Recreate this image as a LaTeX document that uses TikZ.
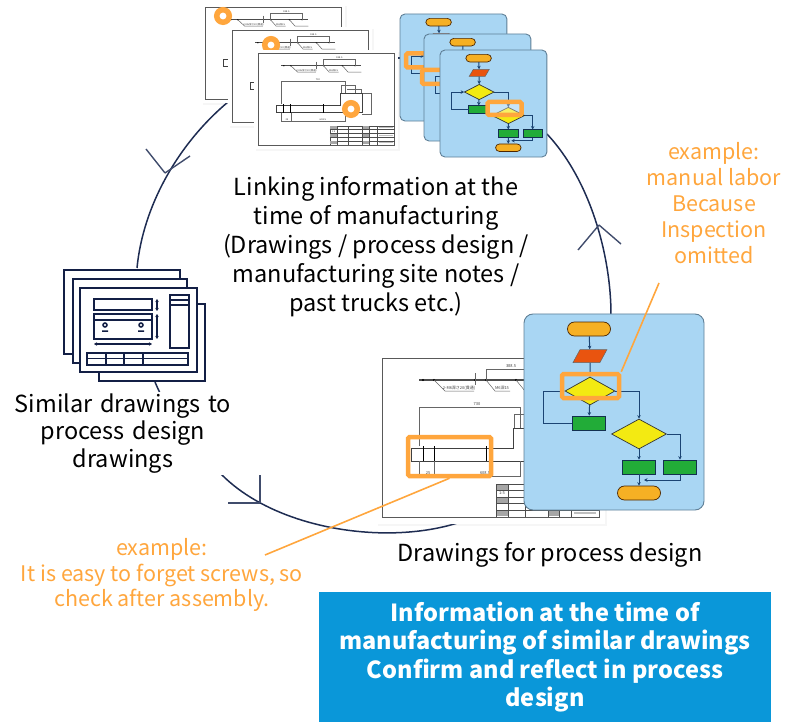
\documentclass[tikz,border=0pt]{standalone}
\usepackage{fontspec}
\setmainfont{Noto Sans CJK JP}
\usepackage{tikz}
\usetikzlibrary{shapes,shapes.geometric,arrows.meta,positioning,shadows}

\definecolor{navyline}{HTML}{1E2C52}
\definecolor{iconnavy}{HTML}{131F45}
\definecolor{markorange}{HTML}{FFA63D}
\definecolor{panelblue}{HTML}{A9D6F3}
\definecolor{paneledge}{HTML}{5F7F96}
\definecolor{flowblue}{HTML}{1B4473}
\definecolor{pillorange}{HTML}{F6B024}
\definecolor{inputred}{HTML}{E9540F}
\definecolor{decyellow}{HTML}{F3EA12}
\definecolor{taskgreen}{HTML}{22AC38}
\definecolor{bannerblue}{HTML}{0A97D9}

\tikzset{
    arcline/.style={navyline, line width=1.5pt},
    barbline/.style={navyline!85!white, line width=1.4pt},
    iconline/.style={iconnavy, line width=2.6pt},
    iconthin/.style={iconnavy, line width=1.5pt},
    markbox/.style={draw=markorange, line width=4.5pt, rounded corners=1.5pt, inner sep=0pt},
    markring/.style={draw=markorange, line width=5.5pt, circle, minimum size=12.5pt, inner sep=0pt, fill=white},
    leaderline/.style={markorange, line width=1.6pt},
    blacktext/.style={align=center, text=black, font=\fontsize{23.5}{29}\selectfont},
    orangetext/.style={align=center, text=markorange, font=\fontsize{21.5}{25.8}\selectfont},
    sheetframe/.style={draw=black!65, line width=0.9pt},
    partline/.style={black!60, line width=0.5pt},
    sheettext/.style={transform shape, inner sep=0pt, black!75, font=\fontsize{4}{4.5}\selectfont},
    pill/.style={transform shape, rounded rectangle, draw=black!70!orange, line width=0.7pt, fill=pillorange, minimum width=43pt, minimum height=14pt, inner sep=0pt},
    inputbox/.style={transform shape, trapezium, trapezium left angle=72, trapezium right angle=108, trapezium stretches=true, draw=black!60, line width=0.5pt, fill=inputred, minimum width=34pt, minimum height=13pt, inner sep=0pt},
    decbox/.style={transform shape, diamond, draw=black!80, line width=0.7pt, fill=decyellow, inner sep=0pt},
    taskbox/.style={transform shape, rectangle, draw=flowblue!70!black, line width=0.7pt, fill=taskgreen, minimum width=33pt, minimum height=14pt, inner sep=0pt},
    flowarrow/.style={flowblue, line width=1pt, -{Stealth[length=3.5pt,width=3.5pt]}},
    % Drawing sheet, in the units of the large sheet
    pics/partsheet/.style={code={
        \fill[white, drop shadow={shadow xshift=2pt, shadow yshift=-2pt, opacity=0.07}] (-6,-6) rectangle (223,166);
        \draw[sheetframe] (0,0) rectangle (217,159);
        % Upper shaft
        \draw[black!70, line width=1.2pt] (37,22) -- (164,22);
        \foreach \px in {41,52,93,104,134,154} {
            \fill[black] (\px,22) circle (1.2);
        }
        \draw[partline] (52,22) -- (63,33) -- (92,33) (104,22) -- (113,33) -- (128,33) (134,22) -- (143,33) -- (164,33);
        \draw[partline] (104,22) -- (104,11) -- (154,11) -- (154,22) (93,15) -- (93,27);
        \node[sheettext] (-lblA) at (129,8.5) {388.5};
        \node[sheettext] (-lblB) at (77,30.5) {2-M6深さ20(貫通)};
        \node[sheettext] (-lblC) at (120,30.5) {M6深15};
        % Part outline
        \draw[partline] (37,88) -- (37,49) -- (138,49) -- (138,70);
        \node[sheettext] (-lblD) at (95,46.5) {730};
        \draw[partline] (132,70) -- (132,56) -- (154,56) -- (154,70) (142,62) -- (164,62) -- (164,70) (154,69) -- (180,69) -- (180,105) -- (165,105);
        \draw[black!75, line width=0.7pt] (29,90) -- (131,90) -- (131,70) -- (165,70) -- (165,103) -- (29,103) -- cycle;
        \draw[partline] (37,103) -- (37,118) -- (138,118) -- (138,103) (52,103) -- (52,118);
        \foreach \px in {41,52,104} {
            \draw[black, line width=0.8pt] (\px,88) -- (\px,103);
        }
        \node[sheettext] (-lblE) at (46,115) {25};
        \node[sheettext] (-lblF) at (103,115) {608.5};
        % Title block
        \draw[black!70, line width=0.6pt] (114,159) -- (114,126) -- (217,126) (114,132) -- (217,132) (114,139) -- (217,139) (114,145) -- (217,145) (114,152) -- (217,152);
        \foreach \px in {126,143,166,177,189} {
            \draw[black!70, line width=0.6pt] (\px,126) -- (\px,159);
        }
        \foreach \py in {126,139,152} {
            \fill[black!35] (114.5,\py+0.5) rectangle (125.5,\py+5.5);
            \fill[black!35] (166.5,\py+0.5) rectangle (176.5,\py+5.5);
            \fill[black!25] (192,\py+2) rectangle (214,\py+4);
        }
        \node[sheettext] (-lblG) at (120,135.5) {1:5};
    }},
    % Flowchart panel, in the units of the large panel
    pics/flowpanel/.style={code={
        \draw[draw=paneledge, fill=panelblue, line width=0.9pt, rounded corners=#1] (0,0) rectangle (180,196);
        \node[pill] (-start) at (65,15) {};
        \node[inputbox] (-input) at (66,42) {\phantom{x}};
        \node[decbox, minimum width=50pt, minimum height=28pt] (-decA) at (66,77) {};
        \node[taskbox] (-taskA) at (65,109) {};
        \node[decbox, minimum width=55pt, minimum height=30pt] (-decB) at (115,120) {};
        \node[taskbox] (-taskB) at (115,153) {};
        \node[taskbox] (-taskC) at (156,153) {};
        \node[pill] (-finish) at (115,179) {};
        \coordinate (-merge) at (120,166);
        \draw[flowarrow] (-start) -- (-input);
        \draw[flowarrow] (-input) -- (-decA);
        \draw[flowarrow] (-decA) -- (-taskA);
        \draw[flowarrow] (-taskA.west) -- ++(-28.5,0) |- (-decA.west);
        \draw[flowarrow] (-decA.east) -| (-decB.north);
        \draw[flowarrow] (-decB) -- (-taskB);
        \draw[flowarrow] (-decB.east) -| (-taskC.north);
        \draw[flowarrow] (-taskB) -- (-finish);
        \draw[flowarrow] (-taskC.south) |- (-merge);
    }}
}

\begin{document}
\begin{tikzpicture}[x=1pt, y=-1pt]

    \useasboundingbox (0,0) rectangle (793,722);

    % Arc ends
    \coordinate (arcTopL) at (228,102);
    \coordinate (arcIconT) at (137,268);
    \coordinate (arcIconB) at (155,382);
    \coordinate (arcLow) at (222,475);
    \coordinate (arcDesign) at (525,470);
    \coordinate (arcPanel) at (611,315);
    \coordinate (arcTopR) at (547,134);
    \coordinate (arcSheetT) at (350,58);
    \coordinate (arcFlowT) at (420,58);

    % Arcs
    \draw[arcline] (arcTopL) .. controls (178,144) and (143,206) .. (arcIconT);
    \draw[arcline] (arcIconB) .. controls (172,422) and (195,450) .. (arcLow);
    \draw[arcline] (arcLow) .. controls (300,553) and (491,553) .. (arcDesign);
    \draw[arcline] (arcPanel) .. controls (611,255) and (590,180) .. (arcTopR);
    \draw[arcline] (arcSheetT) -- (arcFlowT);

    % Arrow heads
    \coordinate (headA) at (165,173);
    \coordinate (headB) at (260,503);
    \coordinate (headC) at (599,225);
    \draw[barbline] (headA) -- +(-19,-24) (headA) -- +(25,-17);
    \draw[barbline] (headB) -- +(0,-28) (headB) -- +(-32,0);
    \draw[barbline] (headC) -- +(-21,25) (headC) -- +(22,19);

    % Drawings at the top
    \pic[xscale=0.63, yscale=0.58] (sheetA) at (205,7) {partsheet};
    \node[markring] (ringA) at (223,16) {};
    \pic[xscale=0.63, yscale=0.58] (sheetB) at (232,30) {partsheet};
    \node[markring] (ringB) at (271,45) {};
    \pic[xscale=0.63, yscale=0.58] (sheetC) at (258,53) {partsheet};
    \node[markring] (ringC) at (351,109) {};

    % Flowcharts at the top
    \pic[xscale=0.594, yscale=0.546] (panelA) at (400,14) {flowpanel=5};
    \node[markbox, minimum width=36pt, minimum height=14pt] (markA) at (424,60.5) {};
    \pic[xscale=0.594, yscale=0.546] (panelB) at (424,34) {flowpanel=5};
    \node[markbox, minimum width=36pt, minimum height=14pt] (markB) at (440,77) {};
    \pic[xscale=0.594, yscale=0.546] (panelC) at (440,50) {flowpanel=5};
    \node[markbox, minimum width=34pt, minimum height=13pt, fill=white, fill opacity=0.35] (markC) at (504.5,108.5) {};

    % Stack of similar drawings
    \draw[iconline, fill=white] (99,304) rectangle (205,381);
    \draw[iconline, fill=white] (64,270) rectangle (180,354);
    \draw[iconline, fill=white] (73,279) rectangle (187,363);
    \draw[iconline, fill=white] (80,288) rectangle (197,372);
    \draw[iconthin] (94,299) rectangle (152,310);
    \draw[iconthin] (94,314) rectangle (152,339) (94,320) -- (152,320);
    \foreach \cx in {105,141} {
        \draw[iconthin] (\cx,325) circle (2) (\cx-3,331) -- (\cx+3,331);
    }
    \draw[iconthin, {Stealth[length=3pt,width=3.5pt]}-{Stealth[length=3pt,width=3.5pt]}] (157,299) -- (157,311);
    \draw[iconthin, {Stealth[length=3pt,width=3.5pt]}-{Stealth[length=3pt,width=3.5pt]}] (157,314) -- (157,339);
    \draw[iconthin, {Stealth[length=3pt,width=3.5pt]}-{Stealth[length=3pt,width=3.5pt]}] (94,344) -- (152,344);
    \draw[iconthin] (170,295) rectangle (189,348) (170,300) -- (189,300) (170,305) -- (189,305);
    \draw[iconthin] (87,353) rectangle (188,365) (87,358.5) -- (188,358.5);
    \foreach \vx in {106,124,143} {
        \draw[iconthin] (\vx,353) -- (\vx,365);
    }

    % Drawing and flowchart for process design
    \pic (sheetMain) at (382,358) {partsheet};
    \node[markbox, minimum width=83pt, minimum height=39pt] (markDraw) at (449.5,456.5) {};
    \pic (panelMain) at (524,314) {flowpanel=9};
    \node[markbox, minimum width=57pt, minimum height=24pt] (markFlow) at (590.5,386) {};

    % Leaders
    \coordinate (leadFlow) at (659,283);
    \coordinate (leadDraw) at (265,555);
    \draw[leaderline] (markFlow.north east) -- (leadFlow);
    \draw[leaderline] (markDraw.south) -- (leadDraw);

    % Texts
    \node[blacktext] (linkText) at (376,247) {Linking information at the\\time of manufacturing\\(Drawings / process design /\\manufacturing site notes /\\past trucks etc.)};
    \node[blacktext, fill=white, inner sep=0pt, text width=217pt, minimum height=83pt, font=\fontsize{23.5}{27.7}\selectfont] (similarText) at (123,433.5) {Similar drawings to\\process design\\drawings};
    \node[blacktext] (designText) at (550,555) {Drawings for process design};
    \node[orangetext] (laborText) at (714,203) {example:\\manual labor\\Because\\Inspection\\omitted};
    \node[orangetext] (screwText) at (162,575) {example:\\It is easy to forget screws, so\\check after assembly.};
    \node[fill=bannerblue, minimum width=452pt, minimum height=130pt, inner sep=0pt, align=center, text=white, font=\fontsize{23.5}{28.2}\selectfont\bfseries] (banner) at (545,657) {Information at the time of\\manufacturing of similar drawings\\Confirm and reflect in process\\design};

\end{tikzpicture}
\end{document}
